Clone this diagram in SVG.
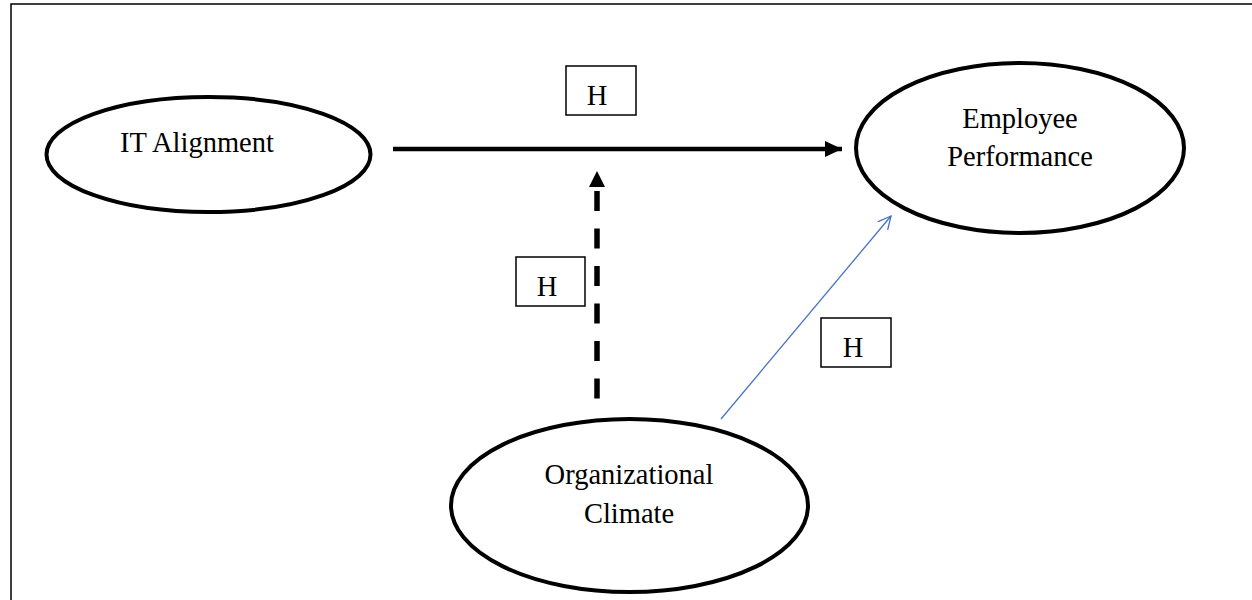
<svg xmlns="http://www.w3.org/2000/svg" width="1252" height="600" viewBox="0 0 1252 600">
<style>
.node{fill:#fff;stroke:#000;stroke-width:4}
.lbl{font-family:"Liberation Serif","Times New Roman",serif;font-size:28.5px;fill:#000;text-anchor:middle}
.hbox{fill:#fff;stroke:#000;stroke-width:1.5}
</style>
<defs>
<marker id="solidHead" markerUnits="userSpaceOnUse" markerWidth="20" markerHeight="18" refX="17" refY="8" orient="auto">
<path d="M0,0 L17,8 L0,16 Z" fill="#000"/>
</marker>
<marker id="openHead" markerUnits="userSpaceOnUse" markerWidth="16" markerHeight="16" refX="13" refY="7" orient="auto">
<path d="M0,0.5 L13,7 L0,13.5" fill="none" stroke="#4472C4" stroke-width="1.3"/>
</marker>
</defs>
<rect x="0" y="0" width="1252" height="600" fill="#fff"/>
<path d="M11,600 V4 H1252" fill="none" stroke="#000" stroke-width="1.5"/>
<g id="connectors">
<line x1="393" y1="149" x2="842" y2="149" stroke="#000" stroke-width="4.5" marker-end="url(#solidHead)"/>
<line x1="597" y1="398.5" x2="597" y2="188" stroke="#000" stroke-width="5.5" stroke-dasharray="20 17.5"/>
<path d="M589,187 L597,171 L605,187 Z" fill="#000"/>
<line x1="721" y1="419" x2="891" y2="216" stroke="#4472C4" stroke-width="1.3" marker-end="url(#openHead)"/>
</g>
<g id="node-it-alignment">
<ellipse class="node" cx="208.5" cy="154.5" rx="162" ry="57.5"/>
<text class="lbl" x="197" y="152">IT Alignment</text>
</g>
<g id="node-employee-performance">
<ellipse class="node" cx="1020" cy="148" rx="164" ry="85"/>
<text class="lbl" x="1020" y="128">Employee</text>
<text class="lbl" x="1020" y="166">Performance</text>
</g>
<g id="node-organizational-climate">
<ellipse class="node" cx="629.5" cy="505.5" rx="178.5" ry="86.5"/>
<text class="lbl" x="629" y="484">Organizational</text>
<text class="lbl" x="629" y="523">Climate</text>
</g>
<g id="label-h1">
<rect class="hbox" x="566" y="66" width="70" height="49"/>
<text class="lbl" x="597" y="105">H</text>
</g>
<g id="label-h2">
<rect class="hbox" x="516" y="257" width="69" height="49"/>
<text class="lbl" x="547" y="296">H</text>
</g>
<g id="label-h3">
<rect class="hbox" x="821" y="318" width="70" height="49"/>
<text class="lbl" x="853" y="357">H</text>
</g>
</svg>
